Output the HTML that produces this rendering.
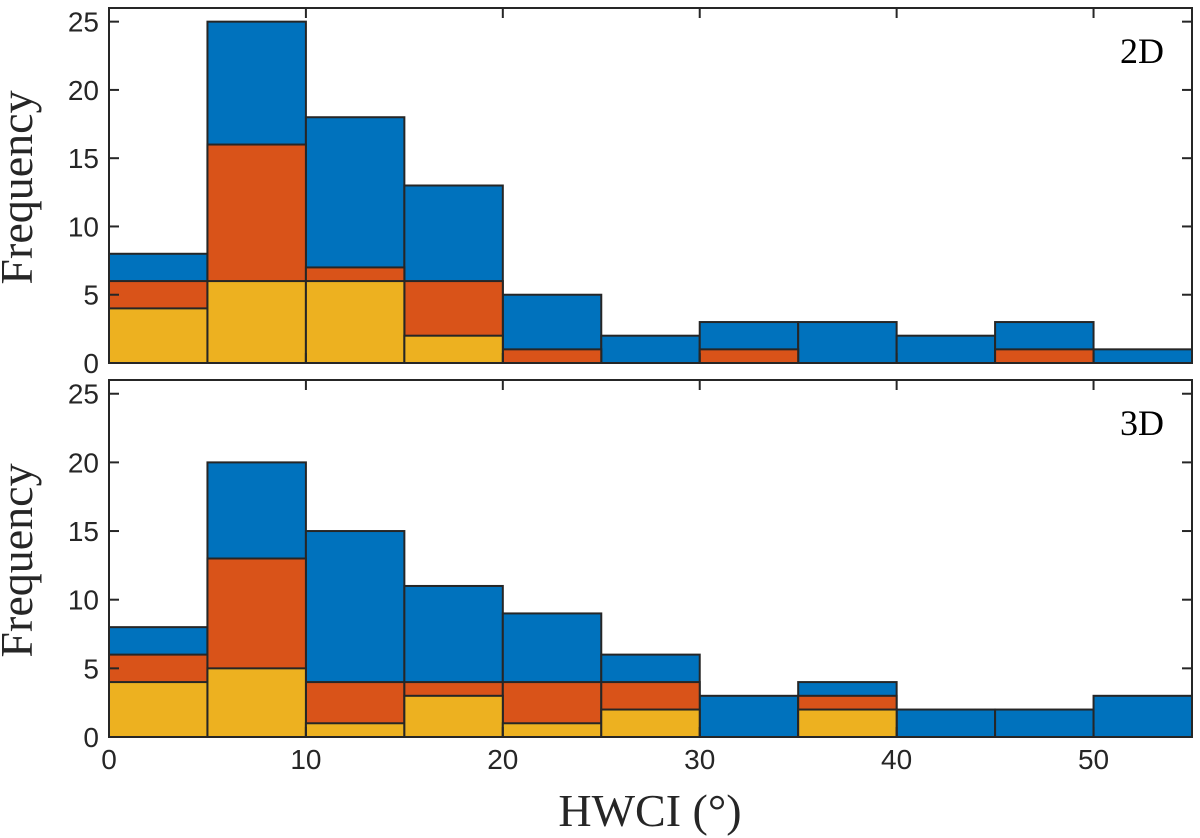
<!DOCTYPE html>
<html><head><meta charset="utf-8"><style>
html,body{margin:0;padding:0;background:#fff;}
svg{display:block;}
</style></head><body>
<svg id="chart" width="1200" height="838" xmlns="http://www.w3.org/2000/svg"></svg>
<script>
const binEdges = [0,5,10,15,20,25,30,35,40,45,50,55];
const xTicks = [0,10,20,30,40,50];
const yTicks = [0,5,10,15,20,25];
// cumulative stacked heights (top of each layer)
const blue2D   = [8,25,18,13,5,2,3,3,2,3,1];
const orange2D = [6,16,7,6,1,0,1,0,0,1,0];
const yellow2D = [4,6,6,2,0,0,0,0,0,0,0];
const blue3D   = [8,20,15,11,9,6,3,4,2,2,3];
const orange3D = [6,13,4,4,4,4,0,3,0,0,0];
const yellow3D = [4,5,1,3,1,2,0,2,0,0,0];

const NS='http://www.w3.org/2000/svg';
const svg=document.getElementById('chart');
function mk(tag,attrs,parent){const e=document.createElementNS(NS,tag);for(const k in attrs)e.setAttribute(k,attrs[k]);(parent||svg).appendChild(e);return e;}
const L=109,R=1192,xMax=55;
const xs=v=>L+(R-L)*v/xMax;
const colors=['#0072BD','#D95319','#EDB120'];

function panel(top,bottom,series,label,name,showX){
  const ys=v=>bottom-(bottom-top)*v/26;
  const g=mk('g',{});
  
  
  series.forEach((arr,si)=>{
    arr.forEach((v,i)=>{
      if(v<=0)return;
      const r=mk('rect',{x:xs(binEdges[i]),y:ys(v),width:xs(binEdges[i+1])-xs(binEdges[i]),height:ys(0)-ys(v),fill:colors[si],stroke:'#262626','stroke-width':2},g);
      
      
    });
  });
  const box=mk('rect',{x:L,y:top,width:R-L,height:bottom-top,fill:'none',stroke:'#262626','stroke-width':2},g);
  
  
  yTicks.forEach(t=>{
    mk('line',{x1:L,x2:L+10,y1:ys(t),y2:ys(t),stroke:'#262626','stroke-width':2},g);
    mk('line',{x1:R,x2:R-10,y1:ys(t),y2:ys(t),stroke:'#262626','stroke-width':2},g);
    const tx=mk('text',{x:L-10,y:ys(t)+10,'text-anchor':'end','font-family':'Liberation Sans, sans-serif','font-size':28,fill:'#262626'},g);
    tx.textContent=t;
    
    
  });
  xTicks.forEach(t=>{
    mk('line',{x1:xs(t),x2:xs(t),y1:bottom,y2:bottom-10,stroke:'#262626','stroke-width':2},g);
    mk('line',{x1:xs(t),x2:xs(t),y1:top,y2:top+10,stroke:'#262626','stroke-width':2},g);
    if(showX){
      const tx=mk('text',{x:xs(t),y:bottom+32,'text-anchor':'middle','font-family':'Liberation Sans, sans-serif','font-size':28,fill:'#262626'},g);
      tx.textContent=t;
      
      
    }
  });
  const yl=mk('text',{x:0,y:0,transform:`translate(32,${(top+bottom)/2+2}) rotate(-90)`,'text-anchor':'middle','font-family':'Liberation Serif, serif','font-size':46,fill:'#262626'},g);
  yl.textContent='Frequency';
  
  
  const pl=mk('text',{x:1164,y:top+55,'text-anchor':'end','font-family':'Liberation Serif, serif','font-size':36,fill:'#000'},g);
  pl.textContent=label;
  
  
}
panel(8,363,[blue2D,orange2D,yellow2D],'2D','top-2d',false);
panel(380,737,[blue3D,orange3D,yellow3D],'3D','bottom-3d',true);
const xl=mk('text',{x:650,y:826,'text-anchor':'middle','font-family':'Liberation Serif, serif','font-size':46,fill:'#262626'});
xl.textContent='HWCI (°)';


</script>
</body></html>
